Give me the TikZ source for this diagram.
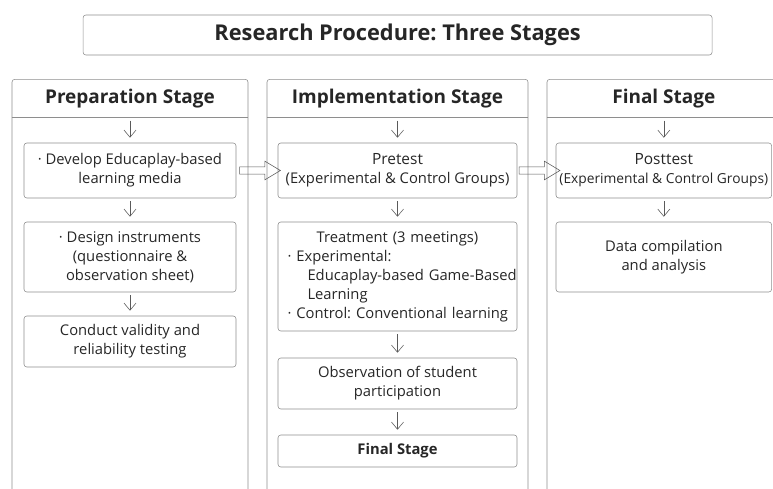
\documentclass[tikz,border=0pt]{standalone}
\usepackage{fontspec}
\setmainfont{Open Sans}
\frenchspacing
\usetikzlibrary{arrows.meta,positioning,shapes.arrows,calc}
\definecolor{framegray}{HTML}{8E8E8E}
\definecolor{arrowgray}{HTML}{5A5A5A}
\definecolor{inkgray}{HTML}{262626}
\tikzset{
  titlebox/.style={draw=framegray, rounded corners=2pt, minimum width=15.725cm, minimum height=1.0cm, text=inkgray, font=\bfseries\fontsize{15.5}{18}\selectfont},
  column/.style={draw=framegray, rounded corners=2pt, anchor=north, minimum height=10.625cm},
  colhead/.style={anchor=north, minimum height=0.95cm, text=inkgray, font=\bfseries\fontsize{13.5}{16}\selectfont},
  stepbox/.style={draw=framegray, rounded corners=2pt, align=center, inner sep=2pt, text=inkgray, font=\fontsize{10.5}{13.5}\selectfont},
  prepbox/.style={stepbox, minimum width=5.3cm},
  implbox/.style={stepbox, minimum width=5.975cm},
  finbox/.style={stepbox, minimum width=5.39cm},
  down/.style={-{Straight Barb[length=1.8mm,width=3mm]}, draw=arrowgray, shorten <=0.075cm, shorten >=0.125cm},
  bigarrow/.style={draw=arrowgray, single arrow, single arrow head extend=0.1425cm, single arrow tip angle=62, inner sep=0.0825cm, minimum height=1.02cm}
}
\begin{document}
\begin{tikzpicture}[x=1cm,y=1cm]
  \clip (0,0) rectangle (19.325,-12.2);
  \node[titlebox] (title) at (9.94,-0.875) {Research Procedure: Three Stages};
  % stage columns with their header rows
  \node[column, minimum width=5.9cm] (prepcol) at (3.25,-1.975) {};
  \node[column, minimum width=6.525cm] (implcol) at (9.9375,-1.975) {};
  \node[column, minimum width=5.84cm] (fincol) at (16.595,-1.975) {};
  \foreach \c/\h/\t in {prepcol/prephead/Preparation Stage, implcol/implhead/Implementation Stage, fincol/finhead/Final Stage} {
    \node[colhead] (\h) at (\c.north) {\t};
    \draw[framegray] (\c.west |- \h.south) -- (\c.east |- \h.south);
  }
  % preparation
  \node[prepbox, minimum height=1.375cm] (develop) at (3.25,-4.2625) {· Develop Educaplay-based\\learning media};
  \node[prepbox, minimum height=1.75cm] (design) at (3.25,-6.425) {· Design instruments\\(questionnaire \&\\observation sheet)};
  \node[prepbox, minimum height=1.275cm] (validity) at (3.25,-8.5375) {Conduct validity and\\reliability testing};
  % implementation
  \node[implbox, minimum height=1.375cm] (pretest) at (9.9375,-4.2625) {{\fontsize{11}{13.5}\selectfont Pretest}\\(Experimental \& Control Groups)};
  \node[implbox, minimum height=2.725cm, align=left, text width=5.6cm, inner xsep=0.1875cm] (treatment) at (9.9375,-6.9125) {%
    {\centering Treatment (3 meetings)\par}
    \raggedright
    \hspace*{0.05cm}· Experimental:\par
    \hspace*{0.55cm}\mbox{Educaplay-based Game-Based}\par
    \hspace*{0.55cm}Learning\par
    \hspace*{0.05cm}\mbox{· Control: Conventional learning}};
  \node[implbox, minimum height=1.275cm] (observe) at (9.9375,-9.5875) {Observation of student\\participation};
  \node[implbox, minimum height=0.8cm, font=\bfseries\fontsize{10.5}{13.5}\selectfont] (finalstep) at (9.9375,-11.275) {Final Stage};
  % final
  \node[finbox, minimum height=1.375cm] (posttest) at (16.595,-4.2625) {{\fontsize{11}{13.5}\selectfont Posttest}\\{\fontsize{9.8}{13.5}\selectfont(Experimental \& Control Groups)}};
  \node[finbox, minimum height=1.75cm] (analysis) at (16.595,-6.425) {Data compilation\\and analysis};
  % flow inside the stages
  \foreach \a/\b in {prephead/develop, develop/design, design/validity, implhead/pretest, pretest/treatment, treatment/observe, observe/finalstep, finhead/posttest, posttest/analysis}
    \draw[down] (\a.south) -- (\b.north);
  % flow between the stages
  \path (develop.east) -- node[bigarrow] {} (pretest.west);
  \path (pretest.east) -- node[bigarrow] {} (posttest.west);
\end{tikzpicture}
\end{document}
